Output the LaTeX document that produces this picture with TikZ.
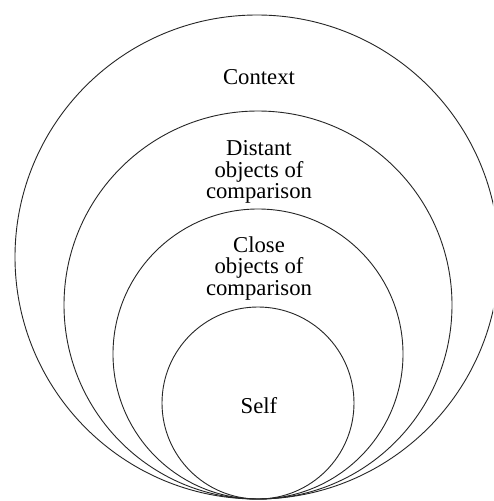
\documentclass[tikz,border=0pt]{standalone}
\usepackage{fontspec}
\setmainfont{Liberation Serif}
\begin{document}
\begin{tikzpicture}[x=1pt,y=-1pt,
  ring/.style={circle,draw=black!85,line width=0.9pt,inner sep=0pt},
  lbl/.style={font=\fontsize{22.7}{21.3}\selectfont,align=center,inner sep=0pt,anchor=base}]
\useasboundingbox (0,0) rectangle (493,501);
\clip (0,0) rectangle (493,501);
\fill[white] (0,0) rectangle (493,501);
\node[ring,minimum size=484pt] (outer) at (257,257) {};
\node[ring,minimum size=388pt] (distant) at (258,305) {};
\node[ring,minimum size=290pt] (close) at (258,354) {};
\node[ring,minimum size=192pt] (self) at (258,403) {};
\node[lbl] (tcontext) at (259,84) {Context};
\node[lbl] (tdistant) at (259,198.5) {Distant\\objects of\\comparison};
\node[lbl] (tclose) at (259,295) {Close\\objects of\\comparison};
\node[lbl] (tself) at (259,413) {Self};
\end{tikzpicture}
\end{document}
